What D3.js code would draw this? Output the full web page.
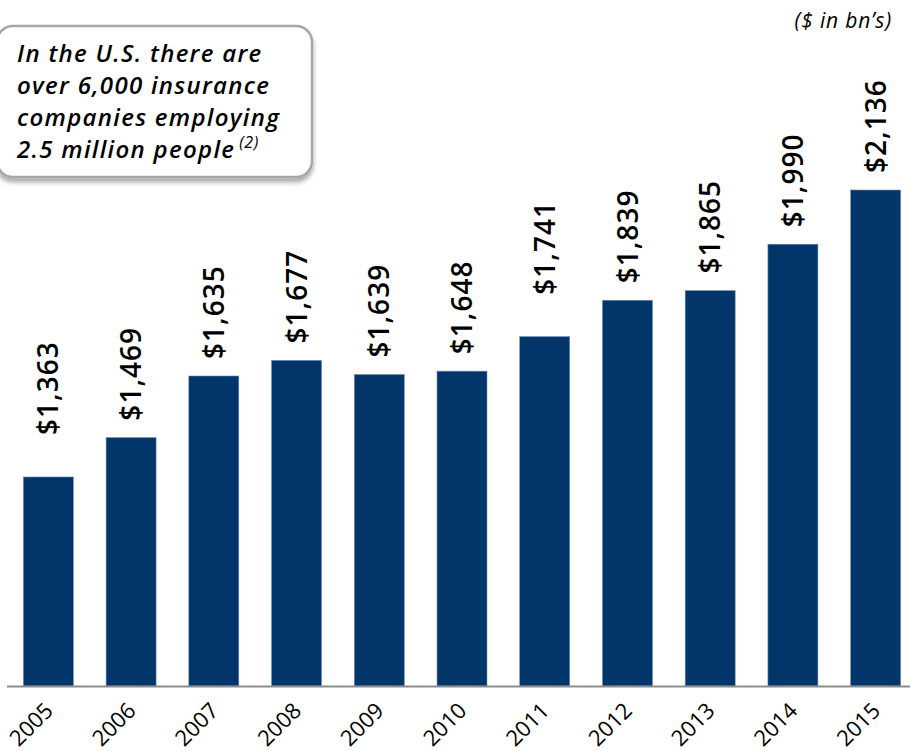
<!DOCTYPE html>
<html>
<head>
<meta charset="utf-8">
<script src="https://cdn.jsdelivr.net/npm/d3@7"></script>
<style>
  body { margin: 0; background: #fff; }
  svg { display: block; }
</style>
</head>
<body>
<svg id="chart" width="910" height="751"></svg>
<script>
// Insurance premiums, US ($ in bn's)
const years = ["2005", "2006", "2007", "2008", "2009", "2010", "2011", "2012", "2013", "2014", "2015"];
const premiums = [1363, 1469, 1635, 1677, 1639, 1648, 1741, 1839, 1865, 1990, 2136];
const noteLines = ["In the U.S. there are", "over 6,000 insurance", "companies employing", "2.5 million people"];
const raisedLabels = ["2005", "2011"]; // these labels sit higher above their bars

const barColor = "#02356a";
const svg = d3.select("#chart");
const baseline = 686;

const data = years.map((y, i) => ({ year: y, value: premiums[i] }));

const x = d3.scaleBand()
    .domain(years)
    .range([7, 917])
    .paddingInner(0.396)
    .paddingOuter(0.198);

const y = d3.scaleLinear()
    .domain([800, 2136])
    .range([baseline, 190]);

// bars
svg.selectAll("rect.bar")
    .data(data)
    .enter()
    .append("rect")
    .attr("class", "bar")
    .attr("x", d => x(d.year))
    .attr("y", d => y(d.value))
    .attr("width", x.bandwidth())
    .attr("height", d => baseline - y(d.value))
    .attr("fill", barColor)
    .attr("stroke", "#6d8db0")
    .attr("stroke-width", 0.6);

// value labels
svg.selectAll("text.value")
    .data(data)
    .enter()
    .append("text")
    .attr("class", "value")
    .attr("transform", d => {
        const gap = raisedLabels.includes(d.year) ? 42 : 17;
        return `translate(${x(d.year) + x.bandwidth() / 2},${y(d.value) - gap}) rotate(-90)`;
    })
    .attr("dy", "0.36em")
    .attr("text-anchor", "start")
    .style("font-family", "'Open Sans', 'Noto Sans', sans-serif")
    .style("font-weight", "600")
    .style("font-size", "28px")
    .style("letter-spacing", "1px")
    .style("fill", "#000")
    .text(d => "$" + d3.format(",")(d.value));

// x axis line
svg.append("line")
    .attr("x1", 7)
    .attr("x2", 910)
    .attr("y1", baseline + 0.5)
    .attr("y2", baseline + 0.5)
    .attr("stroke", "#8c8c8c")
    .attr("stroke-width", 2);

// year labels
svg.selectAll("text.year")
    .data(data)
    .enter()
    .append("text")
    .attr("class", "year")
    .attr("transform", d => `translate(${x(d.year) + x.bandwidth() / 2 + 6},${baseline + 26}) rotate(-45)`)
    .attr("text-anchor", "end")
    .style("font-family", "'Open Sans', sans-serif")
    .style("font-size", "22px")
    .style("fill", "#000")
    .text(d => d.year);

// unit note
svg.append("text")
    .attr("x", 892)
    .attr("y", 28)
    .attr("text-anchor", "end")
    .style("font-family", "'Open Sans', sans-serif")
    .style("font-style", "italic")
    .style("font-size", "21px")
    .style("letter-spacing", "0.8px")
    .style("fill", "#000")
    .text("($ in bn\u2019s)");

// call-out box
const defs = svg.append("defs");
const shadow = defs.append("filter").attr("id", "shadow")
    .attr("x", "-10%").attr("y", "-10%").attr("width", "130%").attr("height", "140%");
shadow.append("feDropShadow")
    .attr("dx", 0).attr("dy", 4)
    .attr("stdDeviation", 2.5)
    .attr("flood-color", "#000")
    .attr("flood-opacity", 0.35);

svg.append("rect")
    .attr("x", -3)
    .attr("y", 26)
    .attr("width", 315)
    .attr("height", 151)
    .attr("rx", 16)
    .attr("fill", "#fff")
    .attr("stroke", "#a6a6a6")
    .attr("stroke-width", 2.5)
    .attr("filter", "url(#shadow)");

const note = svg.append("text")
    .style("font-family", "'Open Sans', sans-serif")
    .style("font-style", "italic")
    .style("font-weight", "600")
    .style("font-size", "24px")
    .style("letter-spacing", "1.3px")
    .style("fill", "#000");

noteLines.forEach((line, i) => {
    note.append("tspan")
        .attr("x", 17)
        .attr("y", 62 + i * 32)
        .text(line);
});
note.append("tspan")
    .attr("dx", 4)
    .attr("dy", -10)
    .style("font-size", "16px")
    .style("font-weight", "400")
    .style("letter-spacing", "0.5px")
    .text("(2)");
</script>
</body>
</html>
